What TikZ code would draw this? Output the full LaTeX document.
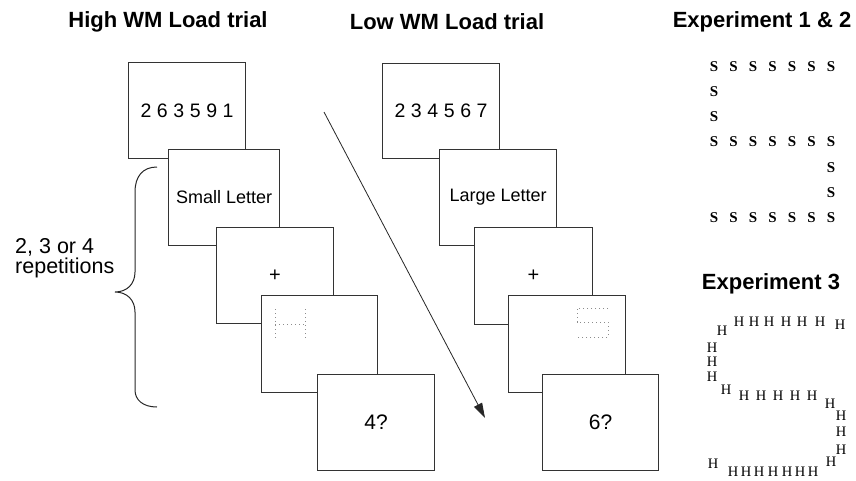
\documentclass[tikz,border=0pt]{standalone}
\usepackage{fontspec}
\setmainfont{Liberation Sans}
\newfontfamily\letterfont{Liberation Serif}
\usetikzlibrary{arrows.meta,calc}
\newcommand\dg{\kern5.6pt}

\begin{document}
\begin{tikzpicture}[x=1pt,y=-1pt,
  card/.style={draw=black!80, line width=1.1pt, fill=white, anchor=north west,
    inner sep=0pt, font=\fontsize{18}{20}\selectfont},
  digits/.style={font=\fontsize{19.5}{20}\selectfont},
  heading/.style={font=\bfseries\fontsize{22}{24}\selectfont, inner sep=0pt},
  probe/.style={draw=black!45, line width=1pt, dash pattern=on 1.2pt off 2.8pt},
  globalS/.style={font=\letterfont\bfseries\fontsize{15}{15}\selectfont, inner sep=0pt},
  globalH/.style={font=\letterfont\fontsize{14.5}{14.5}\selectfont, inner sep=0pt},
]
\useasboundingbox (0,0) rectangle (856,480);

% column headings
\node[heading] (hHigh) at (168,22) {High WM Load trial};
\node[heading] (hLow) at (447,22) {Low WM Load trial};
\node[heading] (hExpA) at (762,22) {Experiment 1 \& 2};
\node[heading] (hExpB) at (771,284) {Experiment 3};

% time arrow (drawn first, cards lie on top)
\coordinate (tStart) at (324,112);
\coordinate (tEnd) at (485,418);
\draw[line width=0.8pt, black!85, -{Triangle[length=15pt,width=9pt]}] (tStart) -- (tEnd);

% high load trial
\node[card, digits, minimum width=117pt, minimum height=96pt] (L1) at (128,62) {2\dg 6\dg 3\dg 5\dg 9\dg 1};
\node[card, minimum width=111pt, minimum height=96pt] (L2) at (168,149) {Small Letter};
\node[card, minimum width=117pt, minimum height=96pt, font=\fontsize{20}{20}\selectfont] (L3) at (216,227) {+};
\node[card, minimum width=116pt, minimum height=97pt] (L4) at (261,295) {};
\node[card, minimum width=117pt, minimum height=96pt, font=\fontsize{21}{21}\selectfont] (L5) at (317,374) {4?};

% dotted probe letter H
\draw[probe] (275,309) -- (275,339);
\draw[probe] (305,309) -- (305,339);
\draw[probe] (275,324) -- (305,324);

% low load trial
\node[card, digits, minimum width=117pt, minimum height=95pt] (R1) at (382,63) {2\dg 3\dg 4\dg 5\dg 6\dg 7};
\node[card, minimum width=117pt, minimum height=96pt] (R2) at (439,149) {Large Letter};
\node[card, minimum width=118pt, minimum height=97pt, font=\fontsize{20}{20}\selectfont] (R3) at (474,227) {+};
\node[card, minimum width=117pt, minimum height=97pt] (R4) at (508,295) {};
\node[card, minimum width=116pt, minimum height=96pt, font=\fontsize{21}{21}\selectfont] (R5) at (542,374) {6?};

% dotted probe letter S
\draw[probe] (608,308) -- (577,308) -- (577,322) -- (608,322) -- (608,337) -- (577,337);

% repetition brace and its label
\draw[line width=1pt, black!85] (157,167) .. controls (143,167) and (135,176) .. (135,192)
  -- (135,272) .. controls (135,284) and (127,292) .. (115,292)
  .. controls (127,292) and (135,300) .. (135,312)
  -- (135,390) .. controls (135,400) and (143,407) .. (157,407);
\node[anchor=west, align=left, inner sep=0pt, font=\fontsize{21.5}{20.5}\selectfont] (reps) at (15,258) {2, 3 or 4\\repetitions};

% global S made of local S letters
\foreach \r/\y in {1/67,4/142,7/218}
  \foreach \c/\x in {1/714,2/733.5,3/753,4/772.5,5/792,6/811.5,7/831}
    \node[globalS] (s\r\c) at (\x,\y) {S};
\node[globalS] (s21) at (714,92) {S};
\node[globalS] (s31) at (714,117) {S};
\node[globalS] (s57) at (831,168) {S};
\node[globalS] (s67) at (831,193) {S};

% global S made of local H letters
\foreach \x/\y [count=\i] in {739/322,754/322,769/322,786/322,802/322,820/322,840/325,
    722/331,712/348,712/362,712/377,726/390,
    744/396,761/396,778/396,795/396,812/396,830/404,
    841/416,841/432,841/450,831/462,
    713/464,733/472,746/472,759/472,773/472,787/472,800/472,813/472}
  \node[globalH] (h\i) at (\x,\y) {H};
\end{tikzpicture}
\end{document}
